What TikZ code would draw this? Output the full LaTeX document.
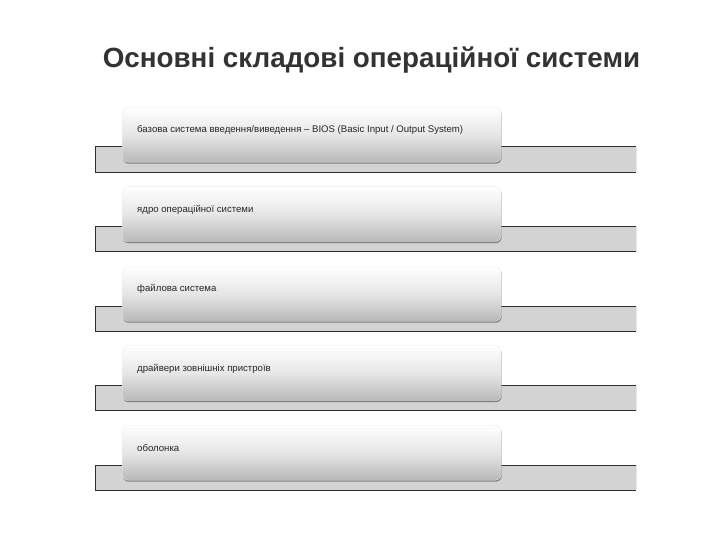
\documentclass[tikz,border=0pt]{standalone}
\usepackage{fontspec}
\setmainfont{Liberation Sans}
\usetikzlibrary{shadows}
\definecolor{bargray}{HTML}{D3D3D3}
\definecolor{barline}{HTML}{2E2E2E}
\definecolor{boxbot}{HTML}{B8B8B8}
\definecolor{boxmid}{HTML}{E6E6E6}
\definecolor{titlecol}{HTML}{333333}
\tikzset{
  barbox/.style={fill=bargray, draw=none, minimum width=541pt, minimum height=25pt, inner sep=0pt, anchor=north west},
  itembox/.style={rounded corners=6pt, top color=white, bottom color=boxbot, middle color=boxmid,
    draw=white!85!gray, line width=0.4pt, minimum width=379pt, minimum height=55pt, inner sep=0pt, anchor=north west,
    drop shadow={shadow xshift=0.5pt, shadow yshift=-1.5pt, opacity=0.4, fill=black}},
  itemtext/.style={font=\fontsize{9.6}{11}\selectfont, text=black!85, anchor=west, inner sep=0pt},
  titletext/.style={font=\fontsize{27.8}{32}\selectfont\bfseries, text=titlecol}
}
\begin{document}
\begin{tikzpicture}[x=1pt,y=-1pt]
\useasboundingbox (0,0) rectangle (720,540);
\node[titletext] (title) at (371.5,60) {Основні складові операційної системи};
\foreach \i/\t in {0/{базова система введення/виведення – BIOS (Basic Input / Output System)},
                   1/{ядро операційної системи},
                   2/{файлова система},
                   3/{драйвери зовнішніх пристроїв},
                   4/{оболонка}}{
  \pgfmathsetmacro{\yy}{147+79.5*\i}
  \pgfmathsetmacro{\by}{107+79.5*\i}
  \node[barbox] (bar\i) at (95,\yy) {};
  \draw[barline, line width=1pt] (bar\i.north west) -- (bar\i.north east);
  \draw[barline, line width=1pt] (bar\i.south west) -- (bar\i.south east);
  \draw[barline, line width=0.6pt] (bar\i.north west) -- (bar\i.south west);
  \draw[white!80!gray, line width=0.6pt] (bar\i.north east) -- (bar\i.south east);
  \node[itembox] (box\i) at (122,\by) {};
  \node[itemtext] (txt\i) at ([xshift=15pt,yshift=-23pt]box\i.north west) {\t};
}
\end{tikzpicture}
\end{document}
